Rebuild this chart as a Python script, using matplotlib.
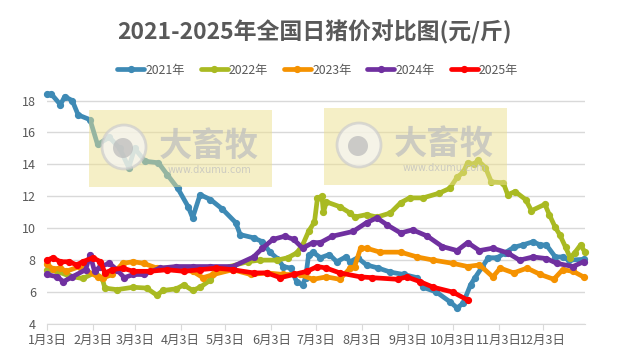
import matplotlib.pyplot as plt
from matplotlib.patches import Rectangle

plt.rcParams['font.family'] = ['Noto Sans CJK SC', 'DejaVu Sans']

# 横轴: 距1月3日的天数
tick_days = [0, 31, 59, 90, 120, 151, 181, 212, 243, 273, 304, 334]
tick_labels = ['1月3日', '2月3日', '3月3日', '4月3日', '5月3日', '6月3日',
               '7月3日', '8月3日', '9月3日', '10月3日', '11月3日', '12月3日']

d2021 = [0, 3, 9, 12, 17, 21, 29, 34, 42, 49, 55, 59, 66, 75, 81, 88, 95, 98, 103, 110,
         118, 127, 130, 139, 145, 150, 155, 159, 164, 168, 172, 174, 176, 179, 184, 190,
         195, 201, 204, 209, 215, 223, 231, 240, 249, 253, 262, 271, 276, 280, 285, 288,
         293, 297, 303, 308, 314, 320, 327, 332, 336, 342, 347, 351, 361]
v2021 = [18.4, 18.4, 17.75, 18.25, 18.0, 17.1, 16.8, 15.25, 15.7, 15.0, 13.8, 15.0, 14.2,
         14.1, 13.35, 12.5, 11.35, 10.65, 12.1, 11.8, 11.2, 10.35, 9.6, 9.4, 9.15, 8.5, 8.1,
         7.6, 7.5, 6.65, 6.45, 6.9, 8.3, 8.5, 8.15, 8.35, 7.9, 8.2, 7.9, 8.15, 7.7, 7.5, 7.25,
         7.1, 6.9, 6.3, 6.0, 5.4, 5.0, 5.3, 6.45, 6.9, 7.6, 8.15, 8.15, 8.45, 8.8, 8.95, 9.15,
         8.95, 8.95, 8.2, 8.2, 8.0, 8.05]

d2022 = [0, 7, 15, 24, 32, 37, 39, 47, 58, 67, 74, 78, 87, 92, 98, 103, 110, 114, 123, 135,
         143, 155, 162, 168, 172, 176, 180, 182, 185, 186, 188, 197, 204, 207, 215, 222, 231,
         238, 244, 253, 264, 271, 276, 280, 283, 287, 290, 295, 299, 307, 310, 315, 322, 326,
         335, 338, 342, 345, 349, 352, 355, 359, 362]
v2022 = [7.4, 7.3, 7.0, 6.85, 7.2, 6.9, 6.25, 6.15, 6.3, 6.25, 5.8, 6.1, 6.2, 6.45, 6.1, 6.3,
         6.75, 7.35, 7.6, 7.9, 8.0, 8.0, 8.15, 8.45, 8.95, 9.8, 10.4, 11.9, 12.0, 11.0, 11.65,
         11.35, 10.95, 10.7, 10.85, 10.7, 10.95, 11.6, 11.9, 11.9, 12.2, 12.5, 13.2, 13.5, 14.1,
         14.0, 14.25, 13.8, 12.9, 12.85, 12.1, 12.3, 11.8, 11.1, 11.5, 10.85, 10.05, 9.6, 8.8,
         8.15, 8.45, 8.95, 8.5]

d2023 = [0, 4, 9, 13, 22, 34, 38, 44, 51, 58, 65, 74, 85, 98, 105, 112, 125, 137, 148, 159,
         170, 179, 188, 197, 204, 207, 211, 215, 224, 238, 249, 260, 273, 283, 291, 300, 305,
         314, 323, 332, 341, 347, 354, 361]
v2023 = [7.75, 7.45, 7.5, 7.3, 7.6, 6.95, 6.9, 7.1, 7.8, 7.9, 7.8, 7.5, 7.5, 7.3, 6.9, 7.1,
         7.4, 7.1, 7.2, 7.1, 7.1, 6.8, 6.95, 6.8, 7.5, 7.6, 8.75, 8.75, 8.5, 8.5, 8.2, 8.0, 7.8,
         7.6, 7.7, 6.95, 7.5, 7.2, 7.5, 7.1, 6.8, 7.4, 7.3, 6.95]

d2024 = [0, 7, 11, 17, 26, 29, 32, 36, 42, 47, 52, 58, 65, 76, 87, 98, 110, 125, 139, 145,
         152, 160, 166, 172, 179, 184, 192, 206, 215, 222, 229, 238, 246, 256, 266, 276, 283,
         291, 300, 310, 318, 327, 336, 343, 354, 361]
v2024 = [7.1, 6.95, 6.65, 6.95, 7.4, 8.35, 7.3, 7.6, 7.8, 7.4, 6.9, 7.1, 7.1, 7.5, 7.6, 7.6,
         7.6, 7.6, 8.2, 8.75, 9.3, 9.5, 9.3, 8.75, 9.1, 9.1, 9.5, 9.8, 10.35, 10.65, 10.2, 9.7,
         9.9, 9.5, 8.85, 8.6, 9.1, 8.6, 8.75, 8.45, 8.0, 8.2, 8.1, 7.8, 7.6, 7.9]

d2025 = [0, 4, 9, 15, 20, 24, 31, 36, 39, 44, 51, 58, 69, 81, 92, 103, 114, 125, 139, 148,
         157, 166, 175, 182, 188, 197, 211, 219, 236, 242, 251, 260, 273, 283]
v2025 = [8.0, 8.15, 7.9, 7.9, 7.7, 7.9, 8.15, 7.9, 7.2, 7.4, 7.5, 7.3, 7.3, 7.4, 7.3, 7.4,
         7.5, 7.4, 7.2, 7.2, 6.9, 7.1, 7.3, 7.6, 7.5, 7.2, 6.95, 6.9, 6.8, 6.95, 6.65, 6.3,
         6.0, 5.5]

series = [('2021年', d2021, v2021, '#3E8AB5'),
          ('2022年', d2022, v2022, '#A9BA22'),
          ('2023年', d2023, v2023, '#F59200'),
          ('2024年', d2024, v2024, '#7030A0'),
          ('2025年', d2025, v2025, '#FF0000')]

grey = '#595959'
fig = plt.figure(figsize=(6.23, 3.64), dpi=100)
ax = fig.add_axes([0.0754, 0.110, 0.8636, 0.64])

for name, d, v, c in series:
    ax.plot(d, v, color=c, lw=3.4, marker='o', ms=4.2, label=name,
            solid_joinstyle='round', solid_capstyle='round', clip_on=False)

ax.set_xlim(0, 362)
ax.set_ylim(4, 18.6)
ax.set_yticks(range(4, 19, 2))
ax.set_xticks(tick_days)
ax.set_xticklabels(tick_labels)
ax.grid(axis='y', color='#D9D9D9', lw=1)
ax.set_axisbelow(True)
for s in ['top', 'right', 'left']:
    ax.spines[s].set_visible(False)
ax.spines['bottom'].set_color('#D9D9D9')
ax.tick_params(axis='x', colors='#D9D9D9', labelcolor=grey, labelsize=9, length=4, pad=3)
ax.tick_params(axis='y', length=0, labelcolor=grey, labelsize=9, pad=8)

fig.text(0.505, 0.912, '2021-2025年全国日猪价对比图(元/斤)', ha='center', va='center',
         fontsize=16.5, fontweight='bold', color=grey)
leg = fig.legend(loc='center', bbox_to_anchor=(0.51, 0.807), ncol=5, frameon=False,
                 fontsize=8.8, handlelength=2.2, columnspacing=1.3, handletextpad=0.1)
for t in leg.get_texts():
    t.set_color(grey)

# 水印
for x0, y0 in [(89, 110), (324, 108)]:
    W, H = 183, 77
    fig.patches.append(Rectangle((x0 / 623, 1 - (y0 + H) / 364), W / 623, H / 364,
                                 transform=fig.transFigure, color='#EDE08F', alpha=0.5,
                                 lw=0, zorder=5))
    fig.patches.append(plt.Circle((x0 + 35, 364 - (y0 + 37)), 22, transform=None,
                                  fc='#F6F6F6', ec='#CCCCCC', lw=2, alpha=0.7, zorder=6))
    fig.patches.append(plt.Circle((x0 + 34, 364 - (y0 + 38)), 10, transform=None,
                                  fc='#BDBDBD', ec='none', alpha=0.75, zorder=7))
    fig.text((x0 + 120) / 623, 1 - (y0 + 36) / 364, '大畜牧', ha='center', va='center',
             fontsize=24, fontweight='bold', color='#BFBFBF', alpha=0.75, zorder=8)
    fig.text((x0 + 120) / 623, 1 - (y0 + 60) / 364, 'www.dxumu.com', ha='center',
             va='center', fontsize=7, color='#BFBFBF', alpha=0.75, zorder=8,
             family='DejaVu Sans')

fig.savefig('out.png', dpi=100)
